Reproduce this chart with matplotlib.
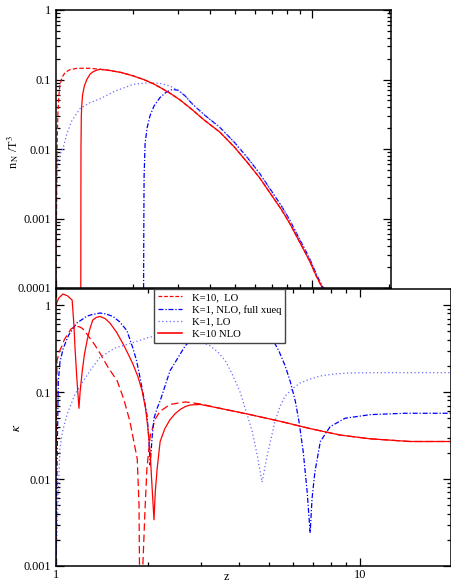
import matplotlib
matplotlib.use("Agg")
import matplotlib.pyplot as plt
from matplotlib.ticker import FixedLocator, FixedFormatter, LogLocator, NullFormatter

plt.rcParams['font.family'] = ['Liberation Serif', 'DejaVu Serif']
plt.rcParams['mathtext.fontset'] = 'stix'

# ---------------- top panel data: n_N / T^3 ----------------
top_lo10_x = [1.0, 1.004, 1.008, 1.012, 1.018, 1.027, 1.036, 1.06, 1.084, 1.13, 1.21, 1.36, 1.49, 1.6, 1.8, 2.0, 2.2, 2.4, 2.55, 2.8, 3.05, 3.4, 3.8, 4.37, 5.0, 5.6, 6.27, 7.0, 7.6, 8.2, 8.8, 9.4, 9.83, 10.4, 11.0]
top_lo10_y = [1e-4, 0.001, 0.006, 0.016, 0.035, 0.06, 0.085, 0.11, 0.125, 0.138, 0.145, 0.145, 0.14, 0.136, 0.126, 0.113, 0.1, 0.087, 0.077, 0.063, 0.051, 0.037, 0.026, 0.0175, 0.0105, 0.0064, 0.0038, 0.0021, 0.00135, 0.00085, 0.00052, 0.00033, 0.00024, 0.00015, 0.0001]

top_nlo10_x = [1.25, 1.252, 1.256, 1.26, 1.27, 1.29, 1.32, 1.36, 1.4, 1.45, 1.49, 1.6, 1.8, 2.0, 2.2, 2.4, 2.55, 2.8, 3.05, 3.4, 3.8, 4.37, 5.0, 5.6, 6.27, 7.0, 7.6, 8.2, 8.8, 9.4, 9.83, 10.4, 11.0]
top_nlo10_y = [1e-4, 0.01, 0.03, 0.04, 0.06, 0.08, 0.1, 0.12, 0.13, 0.137, 0.14, 0.136, 0.126, 0.113, 0.1, 0.087, 0.077, 0.063, 0.051, 0.037, 0.026, 0.0175, 0.0105, 0.0064, 0.0038, 0.0021, 0.00135, 0.00085, 0.00052, 0.00033, 0.00024, 0.00015, 0.0001]

top_nlo1_x = [2.2, 2.205, 2.21, 2.23, 2.27, 2.33, 2.42, 2.55, 2.7, 2.85, 3.0, 3.2, 3.4, 3.8, 4.37, 5.0, 5.6, 6.27, 7.0, 7.6, 8.2, 8.8, 9.4, 9.83, 10.4, 11.0, 11.15]
top_nlo1_y = [1e-4, 0.001, 0.004, 0.012, 0.02, 0.03, 0.042, 0.055, 0.066, 0.072, 0.07, 0.058, 0.045, 0.031, 0.0205, 0.0123, 0.0075, 0.0044, 0.0024, 0.00153, 0.00095, 0.00057, 0.00036, 0.00026, 0.00016, 0.000105, 0.0001]

top_lo1_x = [1.0, 1.004, 1.008, 1.018, 1.04, 1.065, 1.1, 1.15, 1.24, 1.35, 1.49, 1.7, 2.0, 2.3, 2.55, 2.8, 3.0, 3.2, 3.4, 3.8, 4.37, 5.0, 5.6, 6.27, 7.0, 7.6, 8.2, 8.8, 9.4, 9.83, 10.4, 11.0, 11.15]
top_lo1_y = [1e-4, 0.0008, 0.003, 0.0066, 0.0085, 0.0102, 0.016, 0.025, 0.038, 0.046, 0.053, 0.068, 0.085, 0.09, 0.088, 0.08, 0.07, 0.058, 0.045, 0.031, 0.0205, 0.0123, 0.0075, 0.0044, 0.0024, 0.00153, 0.00095, 0.00057, 0.00036, 0.00026, 0.00016, 0.000105, 0.0001]

# ---------------- bottom panel data: kappa ----------------
bot_lo10_x = [1.0, 1.003, 1.008, 1.025, 1.046, 1.065, 1.087, 1.12, 1.155, 1.19, 1.22, 1.255, 1.29, 1.34, 1.395, 1.48, 1.59, 1.67, 1.75, 1.85, 1.875, 1.9, 1.93, 1.96, 1.99, 2.04, 2.12, 2.2, 2.37, 2.66, 2.98, 3.46, 4.35, 5.47, 6.85, 8.6, 10.8, 14.6, 20.0]
bot_lo10_y = [0.001, 0.05, 0.23, 0.29, 0.34, 0.4, 0.45, 0.53, 0.57, 0.565, 0.54, 0.48, 0.42, 0.35, 0.28, 0.195, 0.134, 0.083, 0.046, 0.017, 0.005, 1e-5, 0.001, 0.0041, 0.013, 0.031, 0.049, 0.06, 0.072, 0.077, 0.073, 0.065, 0.055, 0.046, 0.038, 0.032, 0.029, 0.027, 0.027]

bot_nlo1_x = [1.0, 1.008, 1.018, 1.03, 1.057, 1.1, 1.17, 1.26, 1.3, 1.395, 1.46, 1.54, 1.62, 1.71, 1.79, 1.84, 1.89, 1.94, 1.99, 2.02, 2.04, 2.07, 2.1, 2.15, 2.2, 2.37, 2.66, 2.98, 3.2, 3.46, 3.75, 4.03, 4.3, 4.51, 4.8, 5.06, 5.4, 5.67, 5.9, 6.12, 6.3, 6.5, 6.7, 6.85, 6.95, 7.1, 7.4, 7.97, 8.93, 10.8, 14.0, 20.0]
bot_nlo1_y = [0.001, 0.0157, 0.134, 0.22, 0.32, 0.45, 0.62, 0.74, 0.77, 0.81, 0.79, 0.74, 0.64, 0.51, 0.32, 0.23, 0.146, 0.09, 0.055, 0.03, 0.0145, 0.03, 0.05, 0.065, 0.079, 0.175, 0.34, 0.51, 0.62, 0.71, 0.74, 0.74, 0.71, 0.67, 0.57, 0.45, 0.3, 0.2, 0.13, 0.079, 0.045, 0.0206, 0.007, 0.0024, 0.006, 0.012, 0.027, 0.04, 0.05, 0.055, 0.057, 0.057]

bot_lo1_x = [1.0, 1.008, 1.015, 1.03, 1.05, 1.087, 1.155, 1.23, 1.3, 1.395, 1.56, 1.79, 2.04, 2.37, 2.76, 3.0, 3.21, 3.4, 3.6, 3.8, 4.03, 4.22, 4.42, 4.6, 4.76, 4.87, 4.98, 5.25, 5.45, 5.67, 6.0, 6.35, 6.8, 7.4, 8.2, 9.3, 12.0, 20.0]
bot_lo1_y = [0.001, 0.0025, 0.0054, 0.022, 0.035, 0.055, 0.095, 0.134, 0.18, 0.25, 0.32, 0.37, 0.43, 0.44, 0.41, 0.38, 0.34, 0.29, 0.23, 0.16, 0.1, 0.06, 0.035, 0.018, 0.0092, 0.014, 0.0206, 0.046, 0.068, 0.09, 0.11, 0.127, 0.14, 0.153, 0.161, 0.166, 0.167, 0.167]

bot_nlo10_x = [1.0, 1.02, 1.054, 1.09, 1.13, 1.145, 1.155, 1.17, 1.19, 1.2, 1.22, 1.24, 1.265, 1.29, 1.32, 1.355, 1.395, 1.45, 1.505, 1.58, 1.66, 1.73, 1.79, 1.86, 1.92, 1.97, 2.0, 2.04, 2.07, 2.1, 2.12, 2.15, 2.2, 2.28, 2.37, 2.46, 2.56, 2.66, 2.76, 2.98, 3.46, 4.35, 5.47, 6.85, 8.6, 10.8, 14.6, 20.0]
bot_nlo10_y = [1.0, 1.2, 1.34, 1.28, 1.14, 0.6, 0.32, 0.15, 0.065, 0.1, 0.175, 0.27, 0.39, 0.52, 0.67, 0.72, 0.74, 0.7, 0.62, 0.49, 0.36, 0.27, 0.21, 0.15, 0.103, 0.065, 0.042, 0.02, 0.008, 0.0034, 0.007, 0.013, 0.027, 0.038, 0.048, 0.056, 0.063, 0.068, 0.071, 0.072, 0.065, 0.055, 0.046, 0.038, 0.032, 0.029, 0.027, 0.027]

legend_labels = ["K=10,  LO", "K=1, NLO, full xueq", "K=1, LO", "K=10 NLO"]
top_yticks = [1e-4, 1e-3, 1e-2, 1e-1, 1]
top_yticklabels = ["0.0001", "0.001", "0.01", "0.1", "1"]
bot_yticks = [1e-3, 1e-2, 1e-1, 1]
bot_yticklabels = ["0.001", "0.01", "0.1", "1"]
xticks = [1, 10]
xticklabels = ["1", "10"]

RED = '#ff0000'
BLUE = '#0000ff'
LBLUE = '#6a6aff'

W, H = 452, 586
fig = plt.figure(figsize=(W / 100, H / 100), dpi=100)

def px_axes(l, t, r, b):
    return fig.add_axes([l / W, 1 - b / H, (r - l) / W, (b - t) / H])

FS = 8.8

def style(ax):
    ax.set_xscale('log')
    ax.set_yscale('log')
    ax.tick_params(which='both', direction='in', top=True, right=True, labelsize=FS, width=0.9)
    ax.tick_params(which='major', length=6)
    ax.tick_params(which='minor', length=3.2)
    ax.yaxis.set_minor_locator(LogLocator(base=10, subs=range(2, 10)))
    ax.xaxis.set_minor_locator(LogLocator(base=10, subs=range(2, 10)))
    ax.yaxis.set_minor_formatter(NullFormatter())
    ax.xaxis.set_minor_formatter(NullFormatter())
    for s in ax.spines.values():
        s.set_linewidth(1.1)

lw = 0.9
DASHDOT = (4, 1.5, 1, 1.5)
# top axes
ax1 = px_axes(56, 10, 391, 288)
style(ax1)
ax1.plot(top_lo10_x, top_lo10_y, color=RED, lw=lw, dashes=(3.5, 1.8))
ax1.plot(top_nlo1_x, top_nlo1_y, color=BLUE, lw=lw, dashes=DASHDOT)
ax1.plot(top_lo1_x, top_lo1_y, color=LBLUE, lw=lw, dashes=(1, 2))
ax1.plot(top_nlo10_x, top_nlo10_y, color=RED, lw=lw)
ax1.set_xlim(1, 20.4)
ax1.set_ylim(1e-4, 1)
ax1.yaxis.set_major_locator(FixedLocator(top_yticks))
ax1.yaxis.set_major_formatter(FixedFormatter(top_yticklabels))
ax1.xaxis.set_major_locator(FixedLocator(xticks))
ax1.set_xticklabels([])

# bottom axes
ax2 = px_axes(56, 289, 451, 566)
style(ax2)
ax2.plot(bot_lo10_x, bot_lo10_y, color=RED, lw=lw, dashes=(6, 3))
ax2.plot(bot_nlo1_x, bot_nlo1_y, color=BLUE, lw=lw, dashes=DASHDOT)
ax2.plot(bot_lo1_x, bot_lo1_y, color=LBLUE, lw=lw, dashes=(1, 2))
ax2.plot(bot_nlo10_x, bot_nlo10_y, color=RED, lw=lw)
ax2.set_xlim(1, 19.9)
ax2.set_ylim(1e-3, 1.53)
ax2.yaxis.set_major_locator(FixedLocator(bot_yticks))
ax2.yaxis.set_major_formatter(FixedFormatter(bot_yticklabels))
ax2.xaxis.set_major_locator(FixedLocator(xticks))
ax2.xaxis.set_major_formatter(FixedFormatter(xticklabels))
ax2.tick_params(axis='x', pad=2)

# axis titles placed at reference pixel positions
fig.text(13 / W, 1 - 152 / H, r'n$_{\,\rm N}$ /T$^{3}$', fontsize=FS, rotation=90, ha='center', va='center')
fig.text(17 / W, 1 - 428 / H, r'$\kappa$', fontsize=FS + 1, rotation=90, ha='center', va='center')
fig.text(226 / W, 1 - 577 / H, 'z', fontsize=FS, ha='center', va='center')

leg_handles = [
    plt.Line2D([], [], color=RED, lw=lw, dashes=(3, 1.5)),
    plt.Line2D([], [], color=BLUE, lw=lw, dashes=DASHDOT),
    plt.Line2D([], [], color=LBLUE, lw=lw, dashes=(1, 2)),
    plt.Line2D([], [], color=RED, lw=lw * 1.3),
]
leg = ax2.legend(leg_handles, legend_labels, loc='upper left',
                 bbox_to_anchor=(154 / W, 1 - 289 / H), bbox_transform=fig.transFigure,
                 borderaxespad=0, fontsize=7.7, handlelength=2.3, handletextpad=0.9,
                 labelspacing=0.25, borderpad=0.35, fancybox=False, framealpha=1)
leg.get_frame().set_edgecolor('#444444')
leg.get_frame().set_linewidth(1.0)

fig.savefig('out.png', dpi=100)
